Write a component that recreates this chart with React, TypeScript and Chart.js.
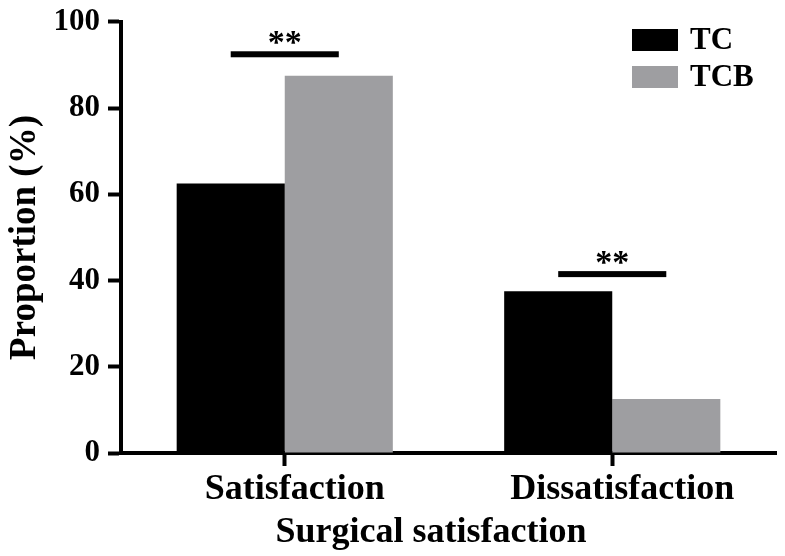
import { useEffect, useRef } from "react"
import { Chart, registerables } from "chart.js"

Chart.register(...registerables)

// 데이터
const categories = ["Satisfaction", "Dissatisfaction"]
const seriesNames = ["TC", "TCB"]
const tcValues = [62.5, 37.5]
const tcbValues = [87.5, 12.5]
const seriesColors = ["#000000", "#9e9ea1"]
const yTicks = [0, 20, 40, 60, 80, 100]
// 유의성 표시 (막대 위 선의 높이, 단위 %)
const sigLevels = [92.5, 41.5]
const sigLabels = ["**", "**"]
const xTitle = "Surgical satisfaction"

const FONT = "'Liberation Serif', 'Times New Roman', serif"

// 유의성 선, 범례, x축 제목 그리기
const annotationPlugin = {
  id: "annotations",
  afterDraw(chart: Chart) {
    const ctx = chart.ctx
    const y = chart.scales.y
    const m0 = chart.getDatasetMeta(0)
    const m1 = chart.getDatasetMeta(1)
    ctx.save()
    sigLevels.forEach((level, i) => {
      const x0 = m0.data[i].x
      const x1 = m1.data[i].x
      const py = y.getPixelForValue(level)
      ctx.fillStyle = "#000"
      ctx.fillRect(x0, py - 3, x1 - x0, 6)
      ctx.font = `bold 34px ${FONT}`
      ctx.textAlign = "center"
      ctx.textBaseline = "alphabetic"
      ctx.fillText(sigLabels[i], (x0 + x1) / 2, py - 1)
    })

    // 범례
    const right = chart.chartArea.right
    const left = right - 144
    seriesNames.forEach((name, i) => {
      const top = 29 + i * 37
      ctx.fillStyle = seriesColors[i]
      ctx.fillRect(left, top, 46, 22)
      ctx.fillStyle = "#000"
      ctx.font = `bold 31px ${FONT}`
      ctx.textAlign = "left"
      ctx.textBaseline = "middle"
      ctx.fillText(name, left + 58, top + 12)
    })

    // x축 제목 (원본보다 약간 왼쪽)
    ctx.fillStyle = "#000"
    ctx.font = `bold 36px ${FONT}`
    ctx.textAlign = "center"
    ctx.textBaseline = "alphabetic"
    ctx.fillText(xTitle, 431, 542)
    ctx.restore()
  },
}

export default function App() {
  const chartRef = useRef<HTMLCanvasElement>(null)
  const chartInstance = useRef<Chart | null>(null)

  useEffect(() => {
    document.body.style.margin = "0"
    if (!chartRef.current) return
    if (chartInstance.current) chartInstance.current.destroy()

    const ctx = chartRef.current.getContext("2d")
    if (!ctx) return

    chartInstance.current = new Chart(ctx, {
      type: "bar",
      data: {
        labels: categories,
        datasets: [
          { label: seriesNames[0], data: tcValues, backgroundColor: seriesColors[0] },
          { label: seriesNames[1], data: tcbValues, backgroundColor: seriesColors[1] },
        ],
      },
      options: {
        animation: false,
        responsive: true,
        maintainAspectRatio: false,
        layout: { padding: { top: 14, right: 9, left: 0, bottom: 0 } },
        datasets: { bar: { barPercentage: 1, categoryPercentage: 0.66 } },
        plugins: {
          legend: { display: false },
          tooltip: { enabled: false },
        },
        scales: {
          x: {
            afterFit: (scale: any) => {
              scale.height = 103
            },
            grid: {
              display: true,
              offset: false,
              drawOnChartArea: false,
              tickLength: 13,
              tickWidth: 4,
              tickColor: "#000",
            },
            border: { display: true, width: 4, color: "#000" },
            ticks: {
              color: "#000",
              padding: 2,
              labelOffset: 10,
              font: { family: FONT, size: 36, weight: "bold" },
            },
            title: { display: false },
          },
          y: {
            min: 0,
            max: 100,
            afterFit: (scale: any) => {
              scale.width = 121
            },
            afterBuildTicks: (scale: any) => {
              scale.ticks = yTicks.map((v) => ({ value: v }))
            },
            grid: {
              display: true,
              drawOnChartArea: false,
              tickLength: 13,
              tickWidth: 4,
              tickColor: "#000",
            },
            border: { display: true, width: 4, color: "#000" },
            ticks: {
              color: "#000",
              padding: 8,
              font: { family: FONT, size: 31, weight: "bold", lineHeight: 0.9 },
            },
            title: {
              display: true,
              text: "Proportion (%)",
              color: "#000",
              padding: { top: 3, bottom: 0 },
              font: { family: FONT, size: 37, weight: "bold" },
            },
          },
        },
      },
      plugins: [annotationPlugin],
    })

    return () => {
      if (chartInstance.current) {
        chartInstance.current.destroy()
        chartInstance.current = null
      }
    }
  }, [])

  return (
    <div style={{ width: "785px", height: "556px", background: "#fff" }}>
      <canvas ref={chartRef} />
    </div>
  )
}
